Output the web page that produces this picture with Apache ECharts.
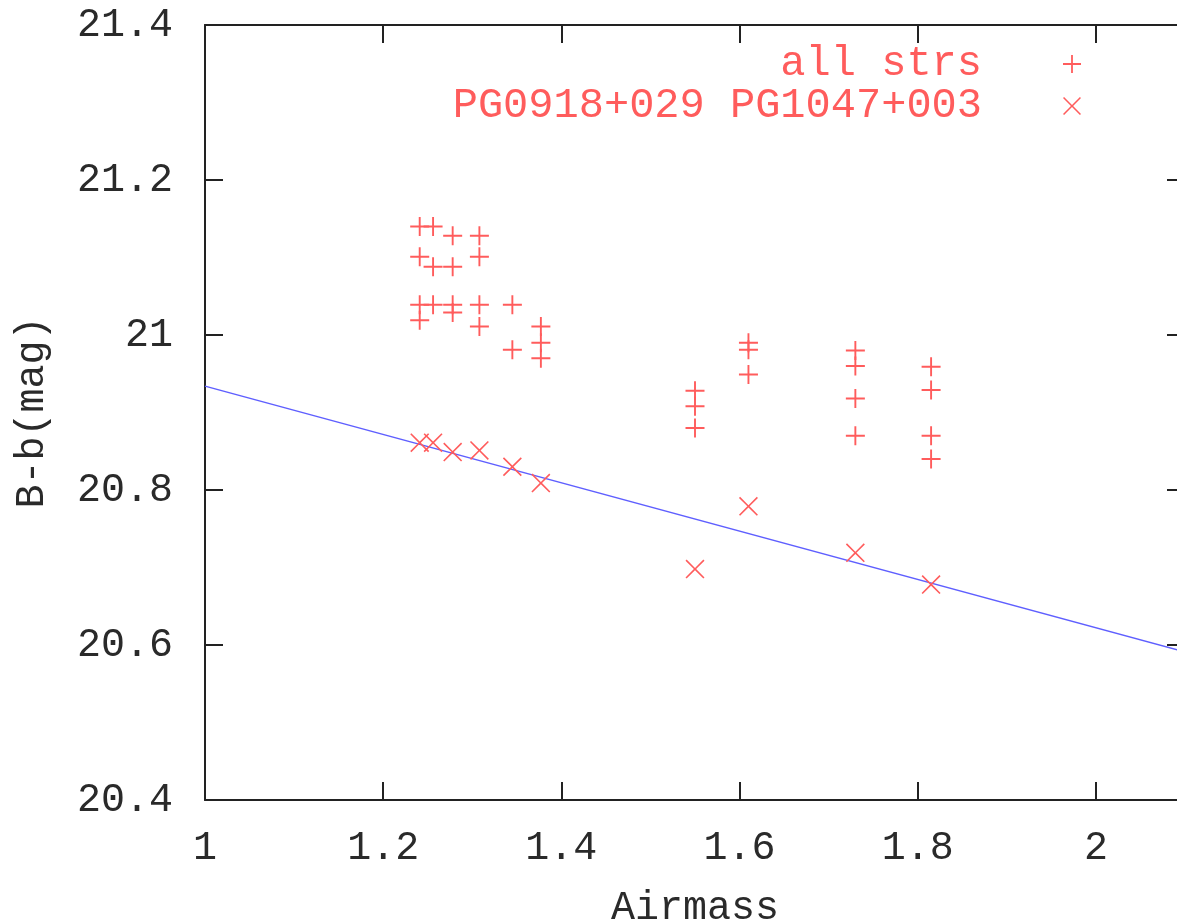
<!DOCTYPE html>
<html>
<head>
<meta charset="utf-8">
<script src="https://cdn.jsdelivr.net/npm/echarts@6/dist/echarts.min.js"></script>
<style>
html,body{margin:0;padding:0;background:#fff;}
#chart{width:1177px;height:922px;}
</style>
</head>
<body>
<div id="chart"></div>
<script>
// ---- data ----
var allStrsX = [1.241,1.241,1.241,1.241, 1.256,1.256,1.256, 1.278,1.278,1.278,1.278, 1.308,1.308,1.308,1.308,
  1.345,1.345, 1.377,1.377,1.377, 1.550,1.550,1.550, 1.610,1.610,1.610, 1.730,1.730,1.730,1.730, 1.815,1.815,1.815,1.815];
var allStrsY = [21.140,21.101,21.039,21.019, 21.140,21.088,21.039, 21.128,21.088,21.039,21.029, 21.128,21.101,21.039,21.011,
  21.039,20.981, 21.011,20.990,20.970, 20.928,20.908,20.880, 20.990,20.981,20.949, 20.980,20.960,20.918,20.870, 20.959,20.929,20.870,20.840];
var pgX = [1.241,1.256,1.278,1.308,1.345,1.377,1.550,1.610,1.730,1.815];
var pgY = [20.861,20.861,20.849,20.851,20.830,20.809,20.698,20.779,20.719,20.678];
var fitX = [1.0, 2.1];
var fitY = [20.934, 20.591];
var xTicks = [1, 1.2, 1.4, 1.6, 1.8, 2];
var yTicks = [20.4, 20.6, 20.8, 21, 21.2, 21.4];
var seriesNames = ['all strs', 'PG0918+029 PG1047+003'];

function zip(a, b){ return a.map(function(v,i){ return [v, b[i]]; }); }

var PLUS = 'path://M-1,-10L1,-10L1,-1L10,-1L10,1L1,1L1,10L-1,10L-1,1L-10,1L-10,-1L-1,-1Z';
var CROSS = 'path://M-10,-8.8L-8.8,-10L0,-1.2L8.8,-10L10,-8.8L1.2,0L10,8.8L8.8,10L0,1.2L-8.8,10L-10,8.8L-1.2,0Z';

var FONT = 'Liberation Mono';
var RED = '#ff5c5c';
var BLUE = '#5f5fff';
var INK = '#2a2a2a';
var txt = {fontFamily: FONT, fontSize: 40, color: INK};

function fmt(v){ return String(+(+v).toFixed(2)); }

var axisLineStyle = {color: '#222', width: 2};
var chart = echarts.init(document.getElementById('chart'));
var option = {
  animation: false,
  backgroundColor: '#fff',
  grid: {left: 205, top: 25, width: 980, height: 775, containLabel: false, outerBoundsMode: 'none'},
  legend: [
    {data: [{name: seriesNames[0], icon: PLUS}], right: 96, top: 43, orient: 'vertical', align: 'right',
     itemWidth: 170, itemHeight: 18, padding: 0, selectedMode: false,
     textStyle: {fontFamily: FONT, fontSize: 42, color: RED}},
    {data: [{name: seriesNames[1], icon: CROSS}], right: 96, top: 85, orient: 'vertical', align: 'right',
     itemWidth: 170, itemHeight: 18, padding: 0, selectedMode: false,
     textStyle: {fontFamily: FONT, fontSize: 42, color: RED}}
  ],
  xAxis: [
    {type: 'value', min: 1, max: 2.1, interval: 0.2, position: 'bottom',
     name: 'Airmass', nameLocation: 'middle', nameGap: 88, nameTextStyle: txt,
     axisLine: {show: true, onZero: false, lineStyle: axisLineStyle},
     axisTick: {show: true, inside: true, length: 18, lineStyle: axisLineStyle},
     axisLabel: {show: true, margin: 28, showMaxLabel: false, formatter: fmt, fontFamily: FONT, fontSize: 40, color: INK},
     splitLine: {show: false}},
    {type: 'value', min: 1, max: 2.1, interval: 0.2, position: 'top',
     axisLine: {show: true, onZero: false, lineStyle: axisLineStyle},
     axisTick: {show: true, inside: true, length: 18, lineStyle: axisLineStyle},
     axisLabel: {show: false}, splitLine: {show: false}}
  ],
  yAxis: [
    {type: 'value', min: 20.4, max: 21.4, interval: 0.2, position: 'left',
     name: 'B-b(mag)', nameLocation: 'middle', nameGap: 153, nameTextStyle: txt, nameRotate: 90,
     axisLine: {show: true, onZero: false, lineStyle: axisLineStyle},
     axisTick: {show: true, inside: true, length: 18, lineStyle: axisLineStyle},
     axisLabel: {show: true, margin: 32, formatter: fmt, fontFamily: FONT, fontSize: 40, color: INK},
     splitLine: {show: false}},
    {type: 'value', min: 20.4, max: 21.4, interval: 0.2, position: 'right',
     axisLine: {show: true, onZero: false, lineStyle: axisLineStyle},
     axisTick: {show: true, inside: true, length: 18, lineStyle: axisLineStyle},
     axisLabel: {show: false}, splitLine: {show: false}}
  ],
  series: [
    {name: seriesNames[0], type: 'scatter', data: zip(allStrsX, allStrsY),
     symbol: PLUS, symbolSize: 19, itemStyle: {color: RED, opacity: 1}},
    {name: seriesNames[1], type: 'scatter', data: zip(pgX, pgY),
     symbol: CROSS, symbolSize: 19, itemStyle: {color: RED, opacity: 1}},
    {name: 'fit', type: 'line', data: zip(fitX, fitY), showSymbol: false, symbol: 'none',
     lineStyle: {color: BLUE, width: 1.5}, z: 1}
  ]
};
chart.setOption(option);
</script>
</body>
</html>
